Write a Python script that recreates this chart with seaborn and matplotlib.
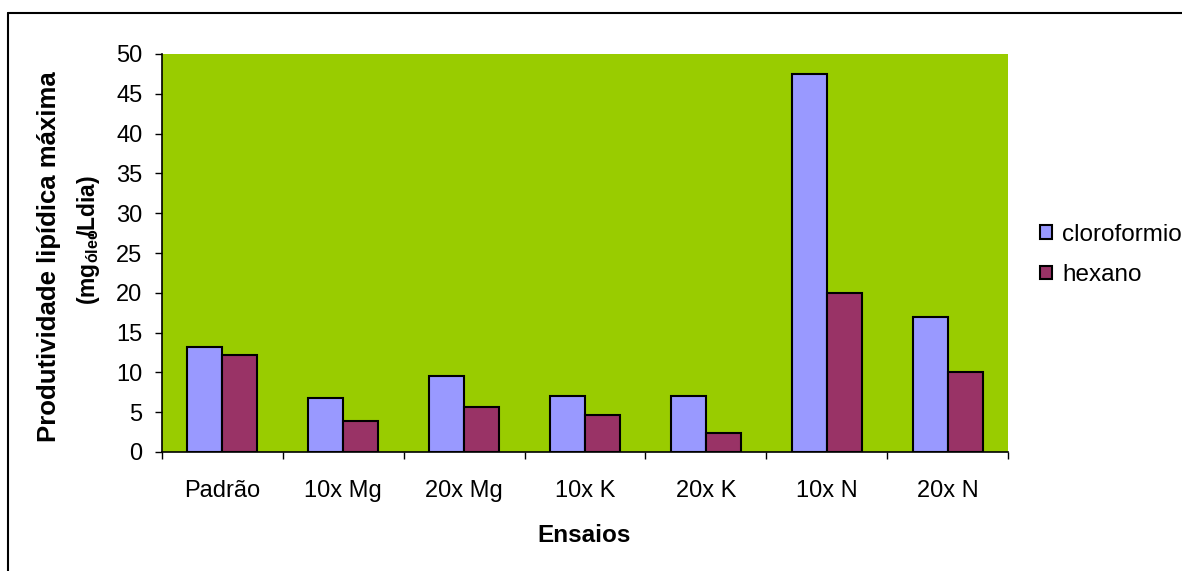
import matplotlib
matplotlib.use("Agg")
import matplotlib.pyplot as plt
from matplotlib.lines import Line2D
from matplotlib.ticker import FixedLocator, MultipleLocator
import seaborn as sns
import pandas as pd

# Lipid productivity per trial, for each extraction solvent
categories = ["Padrão", "10x Mg", "20x Mg", "10x K", "20x K", "10x N", "20x N"]
cloroformio = [13.2, 6.8, 9.5, 7.0, 7.0, 47.5, 16.9]
hexano = [12.2, 3.9, 5.6, 4.6, 2.4, 20.0, 10.0]
series_names = ["cloroformio", "hexano"]
palette = ["#9999FF", "#993366"]

df = pd.DataFrame({
    "Ensaio": categories * 2,
    "Solvente": [series_names[0]] * len(categories) + [series_names[1]] * len(categories),
    "valor": cloroformio + hexano,
})

sns.set_theme(style="white")
plt.rcParams["font.family"] = ["Liberation Sans", "DejaVu Sans"]
plt.rcParams["text.color"] = "black"
plt.rcParams["axes.labelcolor"] = "black"
plt.rcParams["mathtext.fontset"] = "custom"
plt.rcParams["mathtext.rm"] = "Liberation Sans"
plt.rcParams["mathtext.bf"] = "Liberation Sans:bold"

fig = plt.figure(figsize=(11.82, 5.71), dpi=100)
ax = fig.add_axes([162 / 1182, 1 - 452 / 571, (1008 - 162) / 1182, (452 - 54) / 571])
ax.set_facecolor("#99CC00")

sns.barplot(data=df, x="Ensaio", y="valor", hue="Solvente", order=categories,
            hue_order=series_names, palette=palette, width=0.58,
            edgecolor="black", linewidth=1.5, saturation=1, ax=ax, legend=True)

ax.set_xlim(-0.5, len(categories) - 0.5)
ax.set_ylim(0, 50)
ax.yaxis.set_major_locator(MultipleLocator(5))
ax.xaxis.set_minor_locator(FixedLocator([i - 0.5 for i in range(len(categories) + 1)]))

ax.tick_params(axis="y", which="major", direction="out", length=5, width=1,
               color="black", left=True, pad=9, labelsize=17, labelcolor="black")
ax.tick_params(axis="x", which="major", length=0, pad=20, labelsize=17, labelcolor="black")
ax.tick_params(axis="x", which="minor", direction="out", length=5, width=1,
               color="black", bottom=True)

for side in ("top", "right"):
    ax.spines[side].set_visible(False)
for side in ("left", "bottom"):
    ax.spines[side].set_color("black")
    ax.spines[side].set_linewidth(1.2)

ax.set_xlabel("")
ax.set_ylabel("")
fig.text(584 / 1182, 1 - 535 / 571, "Ensaios", ha="center", va="center",
         fontsize=17.5, fontweight="bold", color="black")
fig.text(49 / 1182, 1 - 257 / 571, "Produtividade lipídica máxima", rotation=90,
         ha="center", va="center", fontsize=18.5, fontweight="bold", color="black")
fig.text(88 / 1182, 1 - 240 / 571, r"(mg$_{\mathbf{óleo}}\!\!$/Ldia)", rotation=90,
         ha="center", va="center", fontsize=16.5, fontweight="bold", color="black")

handles, labels = ax.get_legend_handles_labels()
ax.get_legend().remove()
fig.legend(handles, labels, loc="center left",
           bbox_to_anchor=(1040 / 1182, 1 - 255 / 571), frameon=False,
           fontsize=17.5, handlelength=0.5, handleheight=0.5, handletextpad=0.4,
           labelspacing=0.75, borderpad=0, borderaxespad=0, labelcolor="black")

# Outer chart frame
fig.add_artist(Line2D([8 / 1182, 1.01], [1 - 13 / 571] * 2,
                      transform=fig.transFigure, color="black", lw=1.5))
fig.add_artist(Line2D([8 / 1182, 8 / 1182], [1 - 13 / 571, -0.01],
                      transform=fig.transFigure, color="black", lw=1.5))

fig.savefig("out.png", dpi=100)
